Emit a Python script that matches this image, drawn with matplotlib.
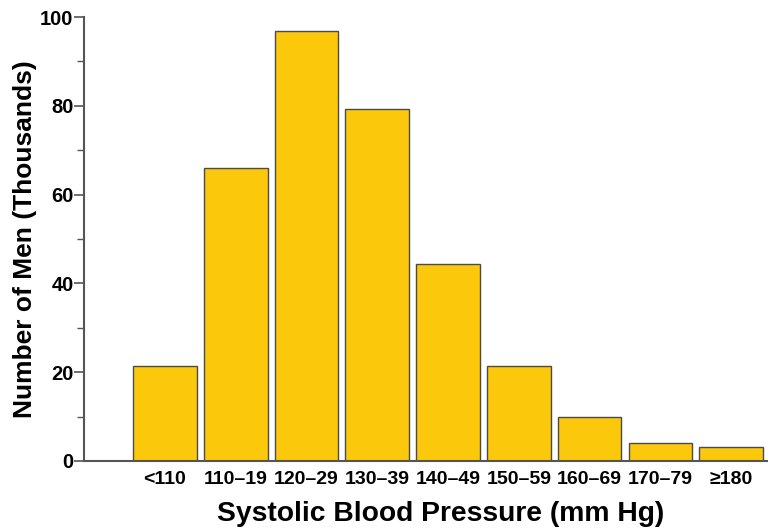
import matplotlib
matplotlib.use("Agg")
import matplotlib.pyplot as plt
from matplotlib.ticker import MultipleLocator

plt.rcParams['font.family'] = ['Liberation Sans', 'DejaVu Sans']
plt.rcParams['font.weight'] = 'bold'

# blood pressure groups and counts (thousands)
categories = ['<110', '110\u201319', '120\u201329', '130\u201339', '140\u201349',
              '150\u201359', '160\u201369', '170\u201379', '\u2265180']
counts = [21.3, 66.0, 96.8, 79.3, 44.3, 21.4, 9.8, 4.1, 3.1]

fig = plt.figure(figsize=(7.68, 5.31), dpi=100)
ax = fig.add_axes([84 / 768, 70 / 531, 1 - 84 / 768, 444 / 531])

x = range(len(categories))
ax.bar(x, counts, width=0.9, color='#FCC80B', edgecolor='#4a4a4a', linewidth=1.0)

ax.set_xlim(-1.144, 8.52)
ax.set_ylim(0, 100)
ax.yaxis.set_major_locator(MultipleLocator(20))
ax.yaxis.set_minor_locator(MultipleLocator(10))
ax.set_xticks(list(x))
ax.set_xticklabels(categories, fontsize=14, fontweight='bold')
ax.tick_params(axis='x', length=0, pad=7)
ax.tick_params(axis='y', which='major', length=7, width=1.2, color='#555555', labelsize=14.5, pad=0.5)
ax.tick_params(axis='y', which='minor', length=5, width=1.0, color='#555555')

for s in ['top', 'right']:
    ax.spines[s].set_visible(False)
for s in ['left', 'bottom']:
    ax.spines[s].set_color('#555555')
    ax.spines[s].set_linewidth(1.5)

ax.set_xlabel('Systolic Blood Pressure (mm Hg)', fontsize=20.3, fontweight='bold')
ax.xaxis.set_label_coords(0.522, -0.12)
ax.xaxis.label.set_va('center')
ax.set_ylabel('Number of Men (Thousands)', fontsize=19, fontweight='bold')
ax.yaxis.set_label_coords(-0.069, 0.5)

fig.savefig('out.png', dpi=100)
